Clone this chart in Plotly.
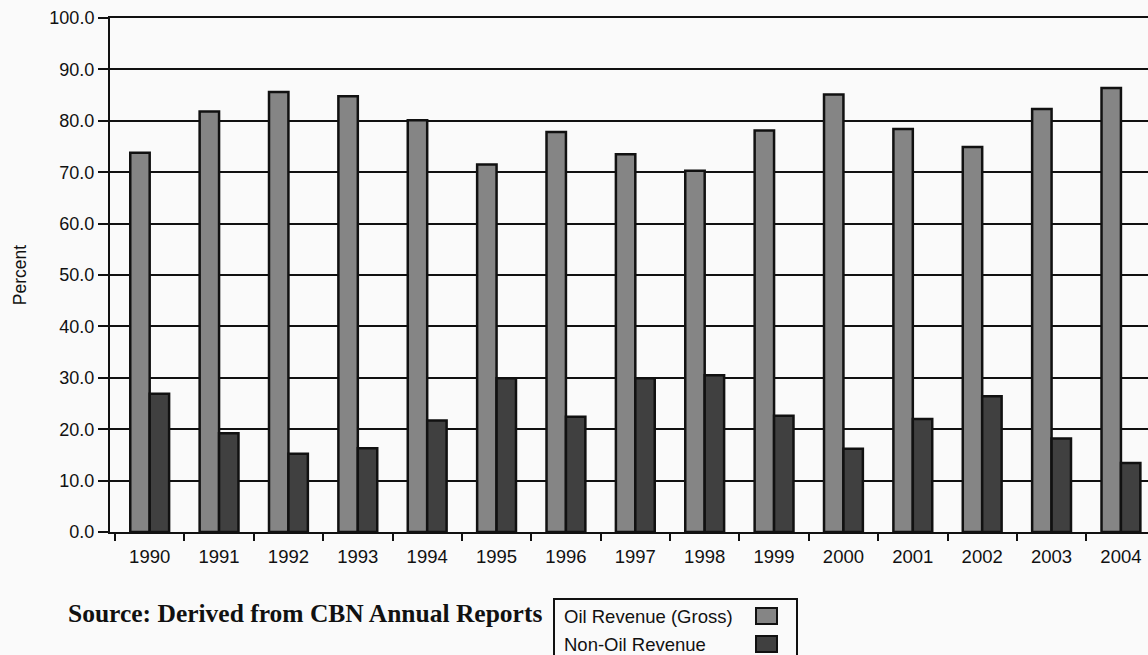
import plotly.graph_objects as go

# Share of federally collected revenue, by source (percent)
years = ["1990", "1991", "1992", "1993", "1994", "1995", "1996", "1997",
         "1998", "1999", "2000", "2001", "2002", "2003", "2004"]
oil_revenue = [73.8, 81.8, 85.6, 84.8, 80.1, 71.5, 77.8, 73.5,
               70.3, 78.1, 85.1, 78.4, 74.9, 82.3, 86.4]
non_oil_revenue = [26.9, 19.2, 15.2, 16.3, 21.7, 29.9, 22.4, 29.9,
                   30.5, 22.6, 16.2, 22.0, 26.4, 18.2, 13.4]
series_names = ["Oil Revenue (Gross)", "Non-Oil Revenue"]
y_ticks = [0, 10, 20, 30, 40, 50, 60, 70, 80, 90, 100]
source_note = "Source: Derived from CBN Annual Reports"

W, H = 1148, 655
L, T, R, B = 110, 18, 0, 123
PW, PH = W - L - R, H - T - B

OIL_FILL = "#858585"
NON_OIL_FILL = "#404040"
INK = "#111111"
BG = "#fafafa"


def px_x(x):
    return (x - L) / PW


def px_y(y):
    return (H - B - y) / PH


fig = go.Figure()
fig.add_trace(go.Bar(
    x=years, y=oil_revenue, name=series_names[0],
    marker=dict(color=OIL_FILL, line=dict(color=INK, width=2.5)),
))
fig.add_trace(go.Bar(
    x=years, y=non_oil_revenue, name=series_names[1],
    marker=dict(color=NON_OIL_FILL, line=dict(color=INK, width=2.5)),
))

# hand-drawn legend box with swatches on the right of the labels
shapes = [
    dict(type="rect", xref="paper", yref="paper",
         x0=px_x(554), x1=px_x(797), y0=px_y(675), y1=px_y(599),
         line=dict(color=INK, width=2), fillcolor=BG, layer="above"),
]
annotations = []
legend_rows = [(series_names[0], OIL_FILL, 616), (series_names[1], NON_OIL_FILL, 644)]
for label, fill, cy in legend_rows:
    shapes.append(dict(type="rect", xref="paper", yref="paper",
                       x0=px_x(756), x1=px_x(777), y0=px_y(cy + 8), y1=px_y(cy - 8),
                       line=dict(color=INK, width=2), fillcolor=fill, layer="above"))
    annotations.append(dict(text=label, xref="paper", yref="paper",
                            x=px_x(562), y=px_y(cy), xanchor="left", yanchor="middle",
                            showarrow=False,
                            font=dict(family="Liberation Sans, Arial", size=18.5, color=INK)))

annotations.append(dict(text="<b>" + source_note + "</b>", xref="paper", yref="paper",
                        x=px_x(66), y=px_y(614), xanchor="left", yanchor="middle",
                        showarrow=False,
                        font=dict(family="Liberation Serif, Times New Roman", size=25.5,
                                  color=INK)))

fig.update_layout(
    width=W, height=H,
    margin=dict(l=L, r=R, t=T, b=B, pad=0),
    paper_bgcolor=BG, plot_bgcolor=BG,
    barmode="group", bargap=0.44, bargroupgap=0.0,
    showlegend=False,
    shapes=shapes, annotations=annotations,
    font=dict(family="Liberation Sans, Arial", color=INK),
)

fig.update_xaxes(
    type="category", range=[-0.572, 14.39],
    tickson="boundaries", ticks="outside", ticklen=7, tickwidth=2, tickcolor=INK,
    ticklabelstandoff=7,
    showline=True, linecolor=INK, linewidth=2, mirror=True,
    showgrid=False, tickfont=dict(size=18.5, color=INK),
)
fig.update_yaxes(
    range=[0, 100], tickvals=y_ticks, tickformat=".1f",
    ticks="outside", ticklen=10, tickwidth=2, tickcolor=INK,
    showline=True, linecolor=INK, linewidth=2,
    showgrid=True, gridcolor=INK, gridwidth=2, zeroline=False,
    tickfont=dict(size=18, color=INK),
    title=dict(text="Percent", font=dict(size=17.5, color=INK), standoff=18),
)

fig.write_html("out.html")
